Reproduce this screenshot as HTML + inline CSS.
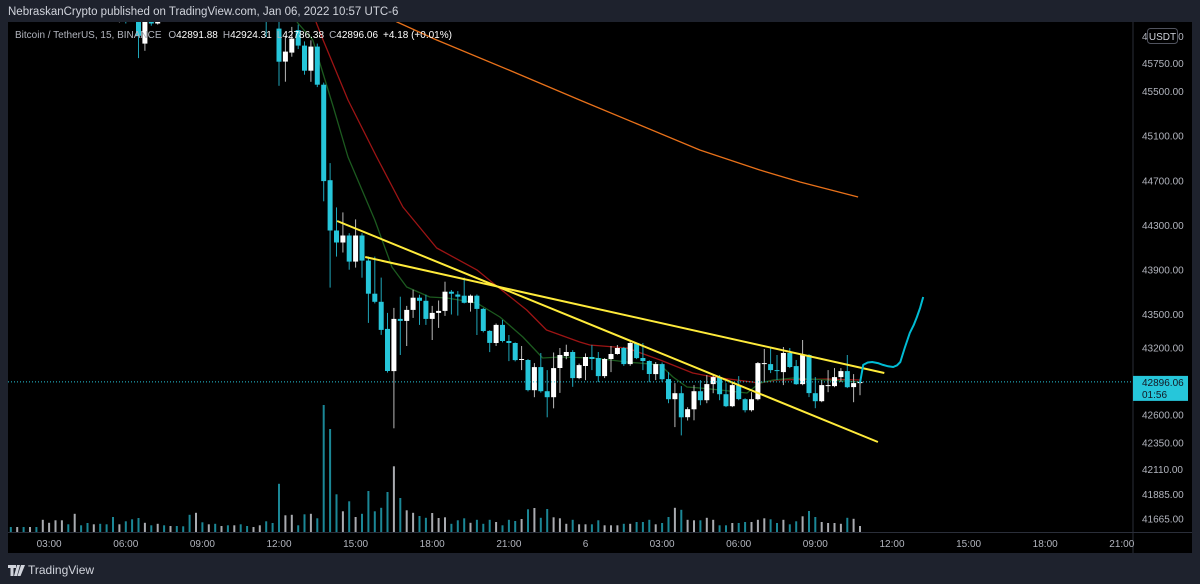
<!DOCTYPE html>
<html><head><meta charset="utf-8">
<style>
html,body{margin:0;padding:0;background:#1e222d;width:1200px;height:584px;overflow:hidden;font-family:"Liberation Sans",sans-serif}
svg{display:block}
</style></head>
<body>
<svg id="chart" width="1200" height="584" xmlns="http://www.w3.org/2000/svg" font-family="Liberation Sans, sans-serif">
  <rect x="0" y="0" width="1200" height="584" fill="#1e222d"/>
  <text x="8" y="15" fill="#d1d4dc" font-size="11.5">NebraskanCrypto published on TradingView.com, Jan 06, 2022 10:57 UTC-6</text>
  <rect x="8" y="22" width="1184" height="531" fill="#000"/>
  <defs><clipPath id="plotClip"><rect x="8" y="22" width="1125" height="510"/></clipPath></defs>
  <g id="plot" clip-path="url(#plotClip)"></g>
  <line x1="1133" y1="22" x2="1133" y2="553" stroke="#2a2e39"/>
  <line x1="8" y1="532.5" x2="1192" y2="532.5" stroke="#2a2e39"/>
  <g id="priceAxis"></g>
  <g id="timeAxis"></g>
  <text x="15" y="38" font-size="10" fill="#b2b5be">Bitcoin / TetherUS, 15, BINANCE <tspan dx="4">O</tspan><tspan fill="#fff">42891.88</tspan><tspan dx="5">H</tspan><tspan fill="#fff">42924.31</tspan><tspan dx="5">L</tspan><tspan fill="#fff">42786.38</tspan><tspan dx="5">C</tspan><tspan fill="#fff">42896.06</tspan><tspan dx="5" fill="#fff">+4.18 (+0.01%)</tspan></text>
  <g>
    <path d="M8 565h8v3h-2.5v8h-3v-8h-2.5z M17 565h3l-3 11h-3z M21 565h4l-4.5 11h-3z" fill="#d1d4dc"/>
    <text x="28" y="574" font-size="12" fill="#d1d4dc">TradingView</text>
  </g>
</svg>
<script>
// ---- data ----
const firstIndex = -41; // candle index of first bar (12:00 day 5 = 1)
const candles = [
[46420,46480,46350,46380],[46380,46450,46330,46420],[46420,46460,46340,46370],[46370,46440,46320,46400],
[46400,46430,46300,46340],[46340,46520,46300,46480],[46480,46560,46440,46530],[46530,46620,46480,46590],
[46590,46680,46540,46640],[46640,46660,46520,46560],[46560,46700,46500,46650],[46650,46670,46560,46590],
[46590,46610,46470,46500],[46500,46580,46460,46540],[46540,46560,46420,46450],[46450,46470,46330,46360],
[46360,46380,46210,46250],[46250,46330,46120,46300],[46300,46320,46110,46180],[46180,46230,46150,46170],
[46200,46260,45800,46000],[45930,46220,45866,46200],[46200,46240,46090,46110],[46110,46300,46100,46260],
[46260,46290,46170,46200],[46200,46330,46180,46300],[46300,46320,46200,46240],[46240,46270,46160,46190],
[46190,46220,46150,46170],[46170,46400,46160,46360],[46360,46380,46220,46260],[46260,46340,46230,46310],
[46310,46330,46240,46270],[46270,46340,46250,46320],[46320,46340,46250,46280],[46280,46350,46260,46330],
[46330,46350,46250,46270],[46270,46290,46180,46210],[46210,46290,46190,46260],[46260,46330,46240,46300],
[46300,46320,45990,46150],[46200,46220,46140,46160],
[46065,46150,45552,45768],[45768,46000,45588,45858],[45849,46080,45813,45975],[46050,46100,45880,45912],
[45912,45950,45651,45687],[45687,45960,45588,45903],[45903,45930,45540,45561],[45561,45580,44515,44696],
[44705,44858,43741,44254],[44254,44461,44020,44146],[44146,44416,44056,44209],[44209,44230,43903,43975],
[43975,44353,43921,44209],[44209,44230,43831,43984],[43984,44020,43425,43687],[43687,44020,43600,43614],
[43614,43831,43317,43362],[43371,43515,42980,42993],[42993,43560,42480,43461],[43461,43660,43137,43443],
[43443,43578,43218,43542],[43542,43723,43470,43651],[43651,43678,43407,43623],[43623,43678,43407,43461],
[43461,43578,43272,43515],[43515,43626,43380,43533],[43533,43795,43488,43705],[43705,43720,43500,43687],
[43680,43710,43490,43660],[43669,43831,43600,43605],[43605,43680,43527,43669],[43669,43680,43317,43551],
[43551,43560,43340,43353],[43353,43360,43164,43245],[43245,43420,43218,43407],[43407,43452,43250,43263],
[43263,43317,43083,43245],[43245,43250,43080,43092],[43092,43218,43002,43101],[43092,43100,42810,42822],
[42822,43065,42759,43029],[43029,43155,42800,42813],[42813,43002,42579,42759],[42759,43160,42660,43020],
[43020,43200,42797,43137],[43128,43230,43100,43164],[43164,43180,42852,42930],[42930,43060,42920,43047],
[43038,43152,42912,43119],[43119,43227,43002,43101],[43110,43164,42894,42948],[42948,43110,42930,43101],
[43101,43218,42984,43146],[43146,43227,43140,43200],[43200,43210,43040,43056],[43056,43260,43040,43245],
[43245,43250,43100,43110],[43110,43245,43002,43083],[43083,43090,42894,42966],[42966,43074,42912,43056],
[43056,43070,42894,42921],[42921,42984,42705,42741],[42741,42885,42490,42795],[42795,42858,42416,42579],
[42579,42669,42550,42651],[42651,42867,42551,42813],[42813,42912,42687,42732],[42732,42957,42705,42876],
[42876,42957,42795,42939],[42939,42957,42732,42786],[42786,42885,42670,42678],[42678,42894,42670,42867],
[42867,42948,42732,42741],[42741,42750,42623,42642],[42642,42804,42630,42741],[42741,43074,42730,43065],
[43056,43191,42894,43065],[43056,43200,42975,43002],[43002,43137,42912,42993],[42984,43209,42867,43155],
[43155,43200,43020,43029],[43038,43092,42870,42876],[42876,43272,42867,43137],[43137,43145,42759,42795],
[42795,42939,42660,42723],[42723,42912,42714,42867],[42858,43002,42804,42867],[42858,43020,42849,42939],
[42939,43020,42894,42993],[42993,43137,42840,42849],[42849,42966,42714,42885],[42885,42912,42777,42896]
];
const volumes = [200,200,200,200,200,490,370,470,470,310,730,270,360,310,330,310,600,310,430,510,560,370,270,330,270,240,240,230,690,770,390,310,330,240,270,270,310,240,200,270,430,360,
1930,670,690,270,710,730,550,5080,4120,1510,830,1230,600,730,1640,830,970,1600,2630,1360,870,770,640,570,760,560,590,330,470,550,370,490,330,490,400,270,490,440,520,910,960,570,920,590,550,330,490,310,
310,310,470,270,270,270,330,330,400,400,490,310,360,600,970,890,490,470,470,570,490,270,270,360,360,400,400,490,550,510,360,490,310,430,630,840,600,400,360,360,330,570,530,240];
const maSlowIdx = [17,19.5,25.7,37,48.1,57.5,66.9,76.3,82.6,91.7];
const maSlowVal = [46200,46124,45962,45693,45424,45200,44976,44796,44689,44554];
const maMidIdx = [6.8,7.9,11.8,16.3,20.4,25.7,32,34.5,39.8,42.9,48.1,49.7,55.5,60.7,65.8,69,76.3,79,86.8,92];
const maMidVal = [46124,45962,45424,44913,44465,44097,43900,43783,43541,43361,43254,43227,43200,43092,42976,42940,42886,42913,42922,42913];
const maFastIdx = [3.8,6.3,9.5,11.8,16,18.7,21,24.6,27.3,32,35.6,39.2,42.3,45,50.2,55.5,60.7,62.7,64.9,66.9,70.1,74.3,76.3,78.4,81.5,92];
const maFastVal = [46124,45962,45361,44913,44348,43926,43747,43657,43648,43604,43478,43299,43110,43119,43110,43074,43048,42940,42850,42841,42823,42796,42886,42913,42931,42895];
const trendAIdx = [10.1,94.8], trendAVal = [44339,42357];
const trendBIdx = [14.5,95.8], trendBVal = [44016,42976];
const projIdx = [92,92.5,93.2,93.9,94.8,95.6,96.4,97.2,97.8,98.3,99,99.8,100.4,100.9,101.4,101.9];
const projVal = [42886,43048,43070,43074,43065,43048,43036,43030,43045,43074,43200,43335,43405,43478,43560,43657];
const priceTicks = [45750,45500,45100,44700,44300,43900,43500,43200,42600,42350,42110,41885,41665];
const timeTickIdx = [-35,-23,-11,1,13,25,37,49,61,73,85,97,109,121,133];
const timeTickLabels = ["03:00","06:00","09:00","12:00","15:00","18:00","21:00","6","03:00","06:00","09:00","12:00","15:00","18:00","21:00"];
const lastPrice = 42896.06;
const countdown = "01:56";

// ---- scales ----
const NS = "http://www.w3.org/2000/svg";
function xOf(i){ return 279 + (i-1)*6.385; }
function yOf(p){ return 348 - (p-43200)*0.1115; }
function yVol(v){ return 532 - v/40; }
function mk(tag, attrs, parent){ const e=document.createElementNS(NS,tag); for(const k in attrs) e.setAttribute(k,attrs[k]); parent.appendChild(e); return e; }

const plot = document.getElementById('plot');
const volG = mk('g',{},plot);


volumes.forEach((v,k)=>{
  const c=candles[k]; const up=c[3]>=c[0]; const x=xOf(firstIndex+k);
  const r=mk('rect',{x:(x-1).toFixed(1),y:yVol(v).toFixed(1),width:2,height:(532-yVol(v)).toFixed(1),fill:up?'#a9abb0':'#1b8796'},volG);
  
  
});
function line(idx, val, color, w, name){
  const pts=idx.map((i,k)=>xOf(i).toFixed(1)+','+yOf(val[k]).toFixed(1)).join(' ');
  const p=mk('polyline',{points:pts,fill:'none',stroke:color,'stroke-width':w,'stroke-linejoin':'round'},plot);
  
  
}
line(maSlowIdx,maSlowVal,'#e8711a',1.3,'ma-slow-line');
line(maMidIdx,maMidVal,'#9c1414',1.3,'ma-mid-line');
line(maFastIdx,maFastVal,'#1c5a1f',1.3,'ma-fast-line');
const cG = mk('g',{},plot);


candles.forEach((c,k)=>{
  const [o,h,l,cl]=c; const up=cl>=o; const x=xOf(firstIndex+k);
  const g=mk('g',{},cG);
  
  
  mk('rect',{x:(x-0.5).toFixed(1),y:yOf(h).toFixed(1),width:1,height:Math.max(1,yOf(l)-yOf(h)).toFixed(1),fill:up?'#b8b8b8':'#1fa5b8'},g);
  const top=yOf(Math.max(o,cl)), bot=yOf(Math.min(o,cl));
  mk('rect',{x:(x-2.5).toFixed(1),y:top.toFixed(1),width:5,height:Math.max(1,bot-top).toFixed(1),fill:up?'#ffffff':'#26c6da'},g);
});
function tl(idx,val,name){
  const l=mk('line',{x1:xOf(idx[0]),y1:yOf(val[0]),x2:xOf(idx[1]),y2:yOf(val[1]),stroke:'#ffeb3b','stroke-width':2},plot);
  
  
}
tl(trendAIdx,trendAVal,'trendline-lower');
tl(trendBIdx,trendBVal,'trendline-upper');
line(projIdx,projVal,'#00bcd4',2,'projection-path');
const ly=yOf(lastPrice);
const dl=mk('line',{x1:8,y1:ly,x2:1133,y2:ly,stroke:'#26c6da','stroke-width':1,'stroke-dasharray':'1,2'},plot);



const pa=document.getElementById('priceAxis');
const hidden=mk('text',{x:1142,y:40,'font-size':10,fill:'#b2b5be'},pa);
hidden.textContent='46150.00';


priceTicks.forEach(p=>{
  const t=mk('text',{x:1142,y:(yOf(p)+3.5).toFixed(1),'font-size':10,fill:'#b2b5be'},pa);
  t.textContent=p.toFixed(2);
  
  
});
const badge=mk('g',{},pa);


mk('rect',{x:1147.5,y:28.5,width:30,height:15,rx:3,fill:'#000',stroke:'#50535e'},badge);
const bt=mk('text',{x:1162.5,y:40,'font-size':10,fill:'#d1d4dc','text-anchor':'middle'},badge);
bt.textContent='USDT';
const pl=mk('g',{},pa);


mk('rect',{x:1133,y:ly-6,width:55,height:25,fill:'#26c6da'},pl);
const t1=mk('text',{x:1142,y:ly+4,'font-size':10,fill:'#131722'},pl); t1.textContent=lastPrice.toFixed(2);
const t2=mk('text',{x:1142,y:ly+16,'font-size':10,fill:'#131722'},pl); t2.textContent=countdown;

const ta=document.getElementById('timeAxis');
timeTickIdx.forEach((i,k)=>{
  const t=mk('text',{x:xOf(i).toFixed(1),y:547,'font-size':10,fill:'#b2b5be','text-anchor':'middle'},ta);
  t.textContent=timeTickLabels[k];
  
  
});
</script>
</body></html>
